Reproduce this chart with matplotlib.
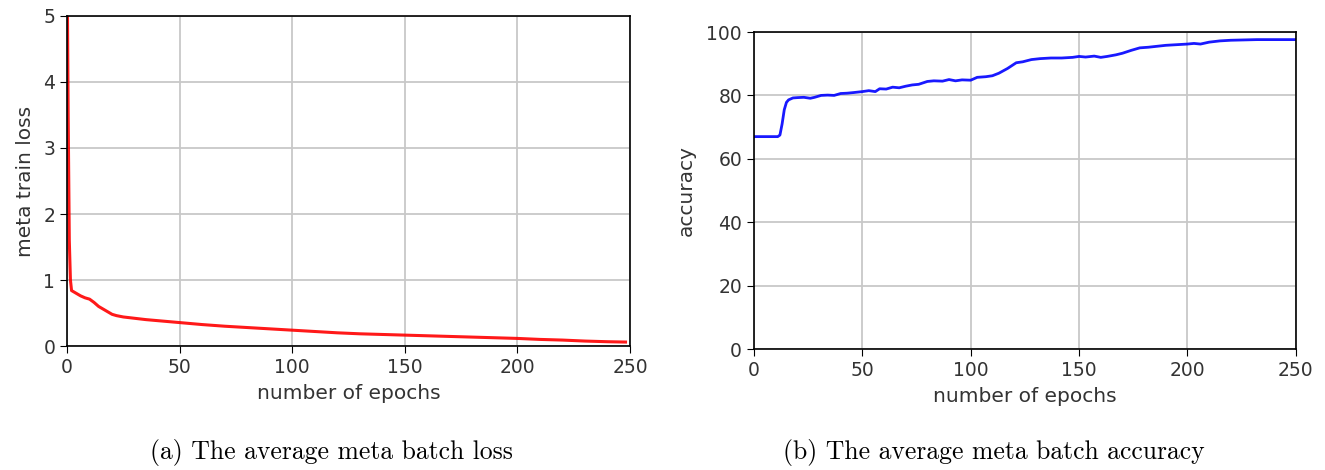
import matplotlib.pyplot as plt
import numpy as np

# loss curve
loss_epochs = [0, 0.5, 1, 1.5, 2, 4, 6, 8, 10, 12, 14, 16, 18, 20, 22, 25, 30, 35, 40, 50,
               60, 70, 80, 90, 100, 110, 120, 130, 140, 150, 160, 170, 180, 190, 200,
               210, 220, 230, 240, 248]
loss_values = [6.0, 3.5, 1.6, 1.0, 0.84, 0.8, 0.76, 0.73, 0.71, 0.66, 0.6, 0.56, 0.52, 0.48,
               0.46, 0.44, 0.42, 0.4, 0.385, 0.355, 0.325, 0.3, 0.28, 0.26, 0.24, 0.22,
               0.2, 0.185, 0.175, 0.165, 0.155, 0.145, 0.135, 0.125, 0.115, 0.1, 0.09,
               0.075, 0.065, 0.06]

# accuracy curve
acc_epochs = [0, 4, 8, 11, 12, 13, 14, 15, 16, 18, 20, 23, 26, 28, 31, 34, 37, 40, 43, 46,
              50, 53, 56, 58, 61, 64, 67, 70, 73, 76, 80, 83, 87, 90, 93, 96, 100, 103,
              107, 110, 113, 117, 121, 124, 128, 132, 137, 142, 147, 150, 153, 157, 160,
              163, 167, 170, 174, 178, 182, 186, 190, 195, 200, 203, 206, 210, 215, 220,
              226, 232, 238, 244, 250]
acc_values = [67, 67, 67, 67, 67.5, 71, 75.5, 77.8, 78.6, 79.2, 79.3, 79.4, 79.1, 79.4, 80.0,
              80.1, 80.0, 80.6, 80.7, 80.9, 81.2, 81.5, 81.2, 82.1, 82.0, 82.6, 82.4, 82.9,
              83.3, 83.5, 84.4, 84.6, 84.5, 85.0, 84.6, 84.9, 84.8, 85.7, 85.9, 86.2, 87.0,
              88.5, 90.3, 90.6, 91.3, 91.6, 91.8, 91.8, 92.0, 92.3, 92.1, 92.4, 92.0, 92.3,
              92.8, 93.3, 94.2, 95.0, 95.2, 95.5, 95.8, 96.0, 96.2, 96.4, 96.2, 96.8, 97.2,
              97.4, 97.5, 97.6, 97.6, 97.6, 97.6]

plt.rcParams['font.family'] = 'DejaVu Sans'
fig = plt.figure(figsize=(13.25, 4.7), dpi=100)

ax1 = fig.add_axes([0.0506, 0.2638, 0.4249, 0.7022])
ax1.plot(loss_epochs, loss_values, color='red', lw=2.2, alpha=0.9)
ax1.set_xlim(0, 250)
ax1.set_ylim(0, 5)
ax1.set_xticks([0, 50, 100, 150, 200, 250])
ax1.set_yticks([0, 1, 2, 3, 4, 5])
ax1.grid(True, color='#c8c8c8', lw=1.3)
ax1.set_xlabel('number of epochs', fontsize=14.5, color='#333333', labelpad=5)
ax1.set_ylabel('meta train loss', fontsize=14.5, color='#333333', labelpad=6)

ax2 = fig.add_axes([0.569, 0.2574, 0.409, 0.6745])
ax2.plot(acc_epochs, acc_values, color='blue', lw=2.0, alpha=0.9)
ax2.set_xlim(0, 250)
ax2.set_ylim(0, 100)
ax2.set_xticks([0, 50, 100, 150, 200, 250])
ax2.set_yticks([0, 20, 40, 60, 80, 100])
ax2.grid(True, color='#c8c8c8', lw=1.3)
ax2.set_xlabel('number of epochs', fontsize=14.5, color='#333333', labelpad=5)
ax2.set_ylabel('accuracy', fontsize=14.5, color='#333333', labelpad=8)

for ax in (ax1, ax2):
    ax.tick_params(labelsize=13.5, labelcolor='#333333', length=5)
    for s in ax.spines.values():
        s.set_linewidth(1.2)

fig.text(0.25, 0.038, '(a) The average meta batch loss', fontsize=18.5, family='cmr10',
         ha='center', va='center')
fig.text(0.75, 0.038, '(b) The average meta batch accuracy', fontsize=18.5, family='cmr10',
         ha='center', va='center')

fig.savefig('out.png', dpi=100)
